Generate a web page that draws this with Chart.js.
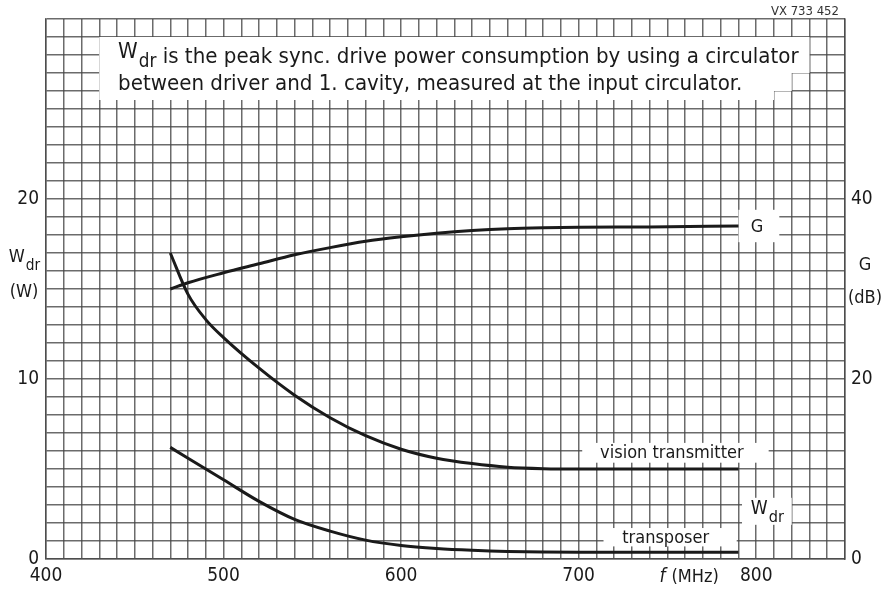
<!DOCTYPE html>
<html>
<head>
<meta charset="utf-8">
<script src="https://cdn.jsdelivr.net/npm/chart.js@4"></script>
<style>
  html, body { margin: 0; padding: 0; background: #fff; }
  #wrap { width: 895px; height: 592px; }
</style>
</head>
<body>
<div id="wrap"><canvas id="chart" width="895" height="592"></canvas></div>
<script>
// frequency (MHz) for each curve
const gFreq = [470, 480, 500, 520, 540, 560, 580, 600, 620, 640, 660, 680, 700, 740, 790];
const gGain = [30, 30.7, 31.8, 32.8, 33.8, 34.6, 35.3, 35.8, 36.2, 36.5, 36.7, 36.8, 36.85, 36.9, 37.0];

const visionFreq = [470, 480, 490, 500, 520, 540, 560, 580, 600, 620, 640, 660, 680, 700, 790];
const visionPower = [17.0, 14.7, 13.3, 12.3, 10.6, 9.1, 7.85, 6.85, 6.1, 5.6, 5.3, 5.1, 5.02, 5.0, 5.0];

const transFreq = [470, 480, 500, 520, 540, 560, 580, 600, 620, 640, 660, 700, 790];
const transPower = [6.2, 5.6, 4.4, 3.2, 2.2, 1.55, 1.05, 0.75, 0.58, 0.48, 0.42, 0.38, 0.38];

const xTickLabels = [400, 500, 600, 700, 800];
const leftTickLabels = [0, 10, 20];
const rightTickLabels = [0, 20, 40];

const toPoints = (xs, ys) => xs.map((v, i) => ({ x: v, y: ys[i] }));

const FONT = '"DejaVu Sans Condensed", "DejaVu Sans", sans-serif';
const INK = '#1a1a1a';
const GRID = 'rgba(70,70,70,0.8)';

// draws "W" with subscript "dr"
function drawSub(ctx, main, sub, x, y, size, align) {
  ctx.font = size + 'px ' + FONT;
  const w1 = ctx.measureText(main).width;
  ctx.font = (size * 0.85) + 'px ' + FONT;
  const w2 = ctx.measureText(sub).width;
  let left = x;
  if (align === 'center') left = x - (w1 + w2) / 2;
  if (align === 'right') left = x - (w1 + w2);
  ctx.textAlign = 'left';
  ctx.textBaseline = 'middle';
  ctx.font = size + 'px ' + FONT;
  ctx.fillText(main, left, y - size * 0.15);
  ctx.font = (size * 0.85) + 'px ' + FONT;
  ctx.fillText(sub, left + w1 + 1, y + size * 0.3);
  return left + w1 + w2 + 1;
}

const labelPlugin = {
  id: 'labels',
  beforeDatasetsDraw(chart) {
    const { ctx, scales: { x, y } } = chart;
    ctx.save();
    ctx.fillStyle = '#fff';
    // note box (stepped on the right like the original)
    const poly = [[430, 29], [830, 29], [830, 27], [820, 27], [820, 26], [810, 26], [810, 25.5], [430, 25.5]];
    ctx.beginPath();
    poly.forEach((p, i) => {
      const px = x.getPixelForValue(p[0]), py = y.getPixelForValue(p[1]);
      i ? ctx.lineTo(px, py) : ctx.moveTo(px, py);
    });
    ctx.closePath();
    ctx.fill();
    const boxes = [
      [790, 19.4, 813, 17.6],
      [702, 6.45, 807, 5.35],
      [792, 3.4, 820, 1.9],
      [714, 1.72, 789, 0.7]
    ];
    boxes.forEach(b => {
      const x0 = x.getPixelForValue(b[0]), y0 = y.getPixelForValue(b[1]);
      const x1 = x.getPixelForValue(b[2]), y1 = y.getPixelForValue(b[3]);
      ctx.fillRect(x0, y0, x1 - x0, y1 - y0);
    });
    ctx.restore();
  },
  afterDatasetsDraw(chart) {
    const { ctx, chartArea, scales: { x, y } } = chart;
    ctx.save();
    ctx.fillStyle = INK;

    // note text
    const line1 = ' is the peak sync. drive power consumption by using a circulator';
    const line2 = 'between driver and 1. cavity, measured at the input circulator.';
    const left = x.getPixelForValue(440.6);
    const right = x.getPixelForValue(823.5);
    let size = 18;
    ctx.font = size + 'px ' + FONT;
    const wW = ctx.measureText('W').width + ctx.measureText('dr').width * 0.85;
    const natural = wW + ctx.measureText(line1).width;
    size = size * (right - left) / natural;
    const endW = drawSub(ctx, 'W', 'dr', left, y.getPixelForValue(27.95), size, 'left');
    ctx.font = size + 'px ' + FONT;
    ctx.textBaseline = 'middle';
    ctx.fillText(line1, endW, y.getPixelForValue(27.85));
    ctx.fillText(line2, left, y.getPixelForValue(26.4));

    // curve labels
    ctx.font = '18px ' + FONT;
    ctx.textAlign = 'center';
    ctx.fillText('G', x.getPixelForValue(800.5), y.getPixelForValue(18.45));
    ctx.fillText('vision transmitter', x.getPixelForValue(752.5), y.getPixelForValue(5.85));
    ctx.fillText('transposer', x.getPixelForValue(749), y.getPixelForValue(1.15));
    drawSub(ctx, 'W', 'dr', x.getPixelForValue(806), y.getPixelForValue(2.6), 19, 'center');

    // axis titles
    ctx.fillStyle = INK;
    drawSub(ctx, 'W', 'dr', chartArea.left - 22, y.getPixelForValue(16.6), 18, 'center');
    ctx.font = '18px ' + FONT;
    ctx.textAlign = 'center';
    ctx.fillText('(W)', chartArea.left - 22, y.getPixelForValue(14.8));
    ctx.fillText('G', chartArea.right + 20, y.getPixelForValue(16.3));
    ctx.fillText('(dB)', chartArea.right + 20, y.getPixelForValue(14.5));

    // frequency title
    const fy = chartArea.bottom + 18;
    ctx.textAlign = 'left';
    ctx.font = 'italic 19px ' + FONT;
    const fx = x.getPixelForValue(745.5);
    ctx.fillText('f', fx, fy);
    ctx.font = '18px ' + FONT;
    ctx.fillText('(MHz)', fx + 12, fy);

    // drawing number
    ctx.font = '13px ' + FONT;
    ctx.textAlign = 'right';
    ctx.fillStyle = '#333';
    ctx.fillText('VX 733 452', chartArea.right - 6, chartArea.top - 7);
    ctx.restore();
  }
};

const tickFont = { family: FONT, size: 19 };

const curve = (label, xs, ys, axis) => ({
  label: label,
  data: toPoints(xs, ys),
  yAxisID: axis,
  borderColor: INK,
  borderWidth: 3,
  cubicInterpolationMode: 'monotone',
  pointRadius: 0,
  fill: false
});

new Chart(document.getElementById('chart').getContext('2d'), {
  type: 'line',
  data: {
    datasets: [
      curve('G', gFreq, gGain, 'y2'),
      curve('vision transmitter', visionFreq, visionPower, 'y'),
      curve('transposer', transFreq, transPower, 'y')
    ]
  },
  options: {
    responsive: false,
    animation: false,
    layout: { padding: { top: 19, left: 0, right: 0, bottom: 0 } },
    plugins: { legend: { display: false }, tooltip: { enabled: false } },
    scales: {
      x: {
        type: 'linear',
        min: 400,
        max: 850,
        afterFit: (s) => { s.height = 33; },
        grid: { color: GRID, lineWidth: 1.5, drawTicks: false },
        border: { color: GRID, width: 1.5 },
        ticks: {
          stepSize: 10,
          autoSkip: false,
          maxRotation: 0,
          padding: 6,
          color: INK,
          font: tickFont,
          callback: (v) => (xTickLabels.includes(v) ? String(v) : '')
        }
      },
      y: {
        position: 'left',
        min: 0,
        max: 30,
        afterFit: (s) => { s.width = 46; },
        grid: { color: GRID, lineWidth: 1.5, drawTicks: false },
        border: { color: GRID, width: 1.5 },
        ticks: {
          stepSize: 1,
          autoSkip: false,
          padding: 7,
          color: INK,
          font: tickFont,
          callback: (v) => (leftTickLabels.includes(v) ? String(v) : '')
        }
      },
      y2: {
        position: 'right',
        min: 0,
        max: 60,
        afterFit: (s) => { s.width = 50; },
        grid: { drawOnChartArea: false, drawTicks: false },
        border: { color: GRID, width: 1.5 },
        ticks: {
          stepSize: 20,
          autoSkip: false,
          padding: 6,
          color: INK,
          font: tickFont,
          callback: (v) => (rightTickLabels.includes(v) ? String(v) : '')
        }
      }
    }
  },
  plugins: [labelPlugin]
});
</script>
</body>
</html>
